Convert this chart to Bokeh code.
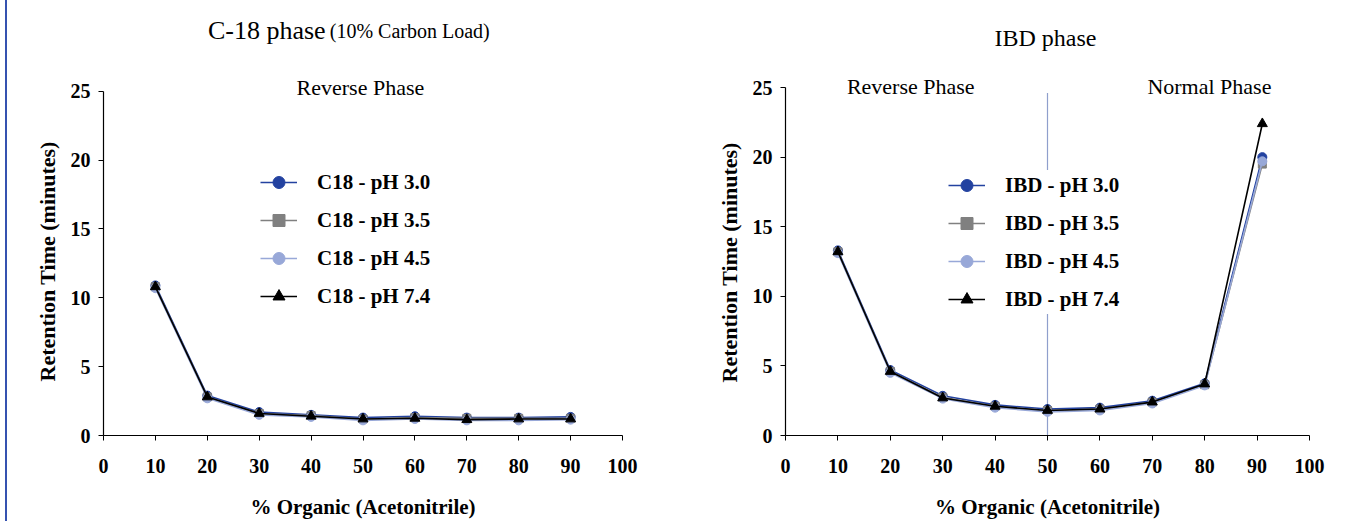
from bokeh.plotting import figure
from bokeh.models import (Range1d, FixedTicker, Legend, LegendItem, Label, Spacer, Title)
from bokeh.layouts import row
from bokeh.embed import file_html
from bokeh.resources import INLINE

# ---------------- data ----------------
x_c18 = [10, 20, 30, 40, 50, 60, 70, 80, 90]
c18_ph30 = [10.9, 2.9, 1.7, 1.5, 1.3, 1.4, 1.3, 1.3, 1.35]
c18_ph35 = [10.8, 2.8, 1.6, 1.45, 1.2, 1.3, 1.25, 1.25, 1.25]
c18_ph45 = [10.7, 2.7, 1.5, 1.35, 1.1, 1.2, 1.1, 1.1, 1.15]
c18_ph74 = [10.8, 2.8, 1.6, 1.4, 1.2, 1.25, 1.15, 1.2, 1.2]

x_ibd = [10, 20, 30, 40, 50, 60, 70, 80, 91]
ibd_ph30 = [13.3, 4.7, 2.85, 2.2, 1.9, 2.0, 2.5, 3.75, 20.0]
ibd_ph35 = [13.2, 4.6, 2.75, 2.1, 1.8, 1.9, 2.4, 3.65, 19.5]
ibd_ph45 = [13.1, 4.5, 2.65, 2.0, 1.7, 1.8, 2.3, 3.6, 19.7]
ibd_ph74 = [13.2, 4.6, 2.7, 2.1, 1.8, 1.9, 2.4, 3.7, 22.4]

x_ticks = [0, 10, 20, 30, 40, 50, 60, 70, 80, 90, 100]
y_ticks = [0, 5, 10, 15, 20, 25]

series_names = ["pH 3.0", "pH 3.5", "pH 4.5", "pH 7.4"]
colors = ["#2342a0", "#808080", "#98a8d8", "#000000"]
markers = ["circle", "square", "circle", "triangle"]
msizes = [9, 8, 9, 10]

SERIF = "Liberation Serif"


def style_axes(p, ylabel_offset):
    p.xaxis.ticker = FixedTicker(ticks=x_ticks)
    p.yaxis.ticker = FixedTicker(ticks=y_ticks)
    p.yaxis.bounds = (0, 25)
    p.xaxis.bounds = (0, 100)
    for ax in (p.xaxis[0], p.yaxis[0]):
        ax.axis_line_color = "black"
        ax.axis_line_width = 1.2
        ax.major_tick_line_color = "black"
        ax.major_tick_in = 0
        ax.major_tick_out = 5
        ax.minor_tick_line_color = None
        ax.major_label_text_font = SERIF
        ax.major_label_text_font_style = "bold"
        ax.major_label_text_font_size = "20px"
        ax.major_label_text_color = "black"
        ax.axis_label_text_font = SERIF
        ax.axis_label_text_font_style = "bold"
        ax.axis_label_text_font_size = "21px"
        ax.axis_label_text_color = "black"
    p.xaxis.major_label_standoff = 18
    p.yaxis.major_label_standoff = 8
    p.xaxis.axis_label_standoff = 19
    p.xaxis.axis_label = "% Organic (Acetonitrile)"
    p.add_layout(Title(text="Retention Time (minutes)", align="left",
                       offset=ylabel_offset, standoff=15,
                       text_font=SERIF, text_font_style="bold",
                       text_font_size="22px", text_color="black"), "left")
    p.xgrid.grid_line_color = None
    p.ygrid.grid_line_color = None
    p.outline_line_color = None


def add_series(p, xs, ys_list, prefix, loc):
    items = []
    for name, ys, c, m, s in zip(series_names, ys_list, colors, markers, msizes):
        ln = p.line(xs, ys, line_color=c, line_width=1.6)
        sc = p.scatter(xs, ys, marker=m, size=s, fill_color=c, line_color=c)
        items.append(LegendItem(label=f"{prefix} - {name}", renderers=[ln, sc]))
    leg = Legend(items=items, location=loc, orientation="vertical",
                 glyph_width=37, glyph_height=30, spacing=8, padding=5,
                 margin=0, label_standoff=20,
                 label_text_font=SERIF, label_text_font_style="bold",
                 label_text_font_size="21px", label_text_color="black",
                 border_line_color=None, background_fill_color="white",
                 background_fill_alpha=1.0)
    p.add_layout(leg, "center")


# ---------------- left figure ----------------
p1 = figure(width=690, height=521, x_range=Range1d(0, 100), y_range=Range1d(0, 30.65),
            output_backend="svg", toolbar_location=None,
            min_border_left=96, min_border_right=75, min_border_top=13, min_border_bottom=85)
style_axes(p1, 54)
add_series(p1, x_c18, [c18_ph30, c18_ph35, c18_ph45, c18_ph74], "C18", (157, 124))

p1.add_layout(Label(x=42.8, y=29.4, text="C-18 phase", text_align="right",
                    text_baseline="alphabetic", text_font=SERIF, text_font_size="26px",
                    text_color="black"))
p1.add_layout(Label(x=43.6, y=29.4, text="(10% Carbon Load)", text_align="left",
                    text_baseline="alphabetic", text_font=SERIF, text_font_size="20px",
                    text_color="black"))
p1.add_layout(Label(x=49.5, y=25.3, text="Reverse Phase", text_align="center",
                    text_baseline="alphabetic", text_font=SERIF, text_font_size="22px",
                    text_color="black"))

# ---------------- right figure ----------------
p2 = figure(width=664, height=521, x_range=Range1d(0, 100), y_range=Range1d(0, 30.32),
            output_backend="svg", toolbar_location=None,
            min_border_left=88, min_border_right=52, min_border_top=13, min_border_bottom=86)
style_axes(p2, 53)
p2.segment(x0=[50], y0=[0], x1=[50], y1=[24.6], line_color="#8f9fcc", line_width=1.2)
add_series(p2, x_ibd, [ibd_ph30, ibd_ph35, ibd_ph45, ibd_ph74], "IBD", (163, 121))

p2.add_layout(Label(x=49.6, y=28.55, text="IBD phase", text_align="center",
                    text_baseline="alphabetic", text_font=SERIF, text_font_size="24px",
                    text_color="black"))
p2.add_layout(Label(x=23.9, y=25.1, text="Reverse Phase", text_align="center",
                    text_baseline="alphabetic", text_font=SERIF, text_font_size="22px",
                    text_color="black"))
p2.add_layout(Label(x=80.9, y=25.1, text="Normal Phase", text_align="center",
                    text_baseline="alphabetic", text_font=SERIF, text_font_size="22px",
                    text_color="black"))

gap = Spacer(width=5, height=521)
edge = Spacer(width=2, height=521, styles={"background-color": "#3552b0"})

layout = row(gap, edge, p1, p2)
open("out.html", "w").write(file_html(layout, INLINE))
